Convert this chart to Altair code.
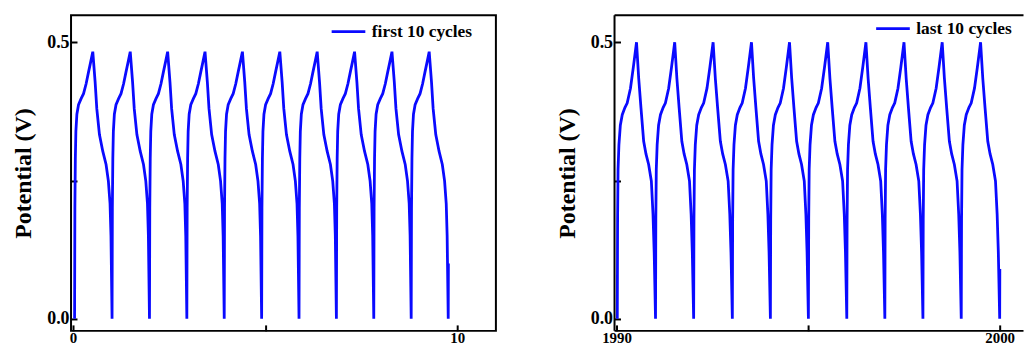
import altair as alt
import pandas as pd

# ---- data ----
# cycle start times (time at each potential minimum) and final end
left_starts = [0.04, 1.016, 1.990, 2.963, 3.936, 4.910, 5.883, 6.856, 7.829, 8.803]
left_end = 9.767
left_tail_v = 0.10
# one charge/discharge cycle: fraction of cycle length, potential (V)
left_shape_t = [0.0, 0.0082, 0.0205, 0.0349, 0.0616, 0.1058, 0.1746, 0.2393, 0.3082,
                0.3719, 0.4314, 0.4859, 0.5485, 0.5927, 0.6636, 0.7519, 0.8403,
                0.9019, 0.9461, 0.9707]
left_shape_v = [0.0, 0.20, 0.29, 0.339, 0.370, 0.387, 0.398, 0.407, 0.425,
                0.446, 0.465, 0.483, 0.428, 0.380, 0.333, 0.303, 0.279,
                0.249, 0.208, 0.150]

right_starts = [1990.02, 1991.018, 1992.013, 1993.023, 1994.016, 1995.008,
                1996.010, 1997.003, 1997.997, 1998.997]
right_end = 2000.0
right_tail_v = 0.09
right_shape_t = [0.0, 0.008, 0.02, 0.043, 0.08, 0.13, 0.2, 0.259, 0.345, 0.42,
                 0.503, 0.56, 0.62, 0.69, 0.75, 0.82, 0.891, 0.934, 0.965]
right_shape_v = [0.0, 0.18, 0.27, 0.315, 0.350, 0.369, 0.382, 0.390, 0.417, 0.455,
                 0.500, 0.435, 0.381, 0.321, 0.298, 0.279, 0.249, 0.189, 0.120]

left_label = "first 10 cycles"
right_label = "last 10 cycles"
left_ticks = [0, 5, 10]
right_ticks = [1990, 1995, 2000]
y_ticks = [0.0, 0.25, 0.5]


def build(starts, end, shape_t, shape_v, tail_v, label):
    rows = []
    bounds = starts + [end]
    for i, s in enumerate(starts):
        length = bounds[i + 1] - s
        for t, v in zip(shape_t, shape_v):
            rows.append({"t": s + t * length, "v": v})
    rows.append({"t": end, "v": 0.0})
    rows.append({"t": end + 0.004, "v": tail_v})
    df = pd.DataFrame(rows)
    df["order"] = range(len(df))
    df["series"] = label
    return df


left_df = build(left_starts, left_end, left_shape_t, left_shape_v, left_tail_v, left_label)
right_df = build(right_starts, right_end, right_shape_t, right_shape_v, right_tail_v, right_label)

FONT = "Liberation Serif"
BLUE = "#0a0aff"
H = 318


def panel(df, label, xdom, xticks, hide_x, legx, legy, width):
    xaxis = alt.Axis(values=xticks, title=None, grid=False, domain=False,
                     offset=-6, tickSize=6, tickWidth=2, tickColor="black",
                     labelFont=FONT, labelFontSize=15, labelFontWeight="bold",
                     labelColor="black", labelPadding=0,
                     labelExpr=f"datum.value == {hide_x} ? '' : format(datum.value, 'd')")
    yaxis = alt.Axis(values=y_ticks, title="Potential (V)", grid=False, domain=False,
                     offset=-6, tickSize=6, tickWidth=2, tickColor="black",
                     labelFont=FONT, labelFontSize=18, labelFontWeight="bold",
                     labelColor="black", labelPadding=2,
                     labelExpr="datum.value == 0.25 ? '' : format(datum.value, '.1f')",
                     titleFont=FONT, titleFontSize=24, titleFontWeight="bold",
                     titleColor="black", titlePadding=11)
    return alt.Chart(df).mark_line(strokeWidth=2.8, clip=True).encode(
        x=alt.X("t:Q", scale=alt.Scale(domain=xdom, nice=False, zero=False), axis=xaxis),
        y=alt.Y("v:Q", scale=alt.Scale(domain=[-0.022, 0.549], nice=False), axis=yaxis),
        color=alt.Color("series:N", scale=alt.Scale(domain=[label], range=[BLUE]),
                        legend=alt.Legend(title=None, orient="none", legendX=legx, legendY=legy,
                                          symbolType="stroke", symbolSize=1150,
                                          symbolStrokeWidth=2.8, labelFont=FONT,
                                          labelFontSize=17.5, labelFontWeight="bold",
                                          labelColor="black", labelOffset=5, padding=0)),
        order="order:Q",
    ).properties(width=width, height=H)


LW = 428
RW = 412

left = panel(left_df, left_label, [-0.052, 11.008], left_ticks, 5, 261, -2, LW).properties(
    view=alt.ViewConfig(stroke="black", strokeWidth=2)
)

frame_df = pd.DataFrame({"k": [0]})
frame_top = alt.Chart(frame_df).mark_rule(color="black", strokeWidth=2).encode(
    x=alt.value(0), x2=alt.value(RW), y=alt.value(0))
frame_bottom = alt.Chart(frame_df).mark_rule(color="black", strokeWidth=2).encode(
    x=alt.value(0), x2=alt.value(RW), y=alt.value(H))
frame_left = alt.Chart(frame_df).mark_rule(color="black", strokeWidth=2).encode(
    x=alt.value(0), y=alt.value(0), y2=alt.value(H))

right_line = panel(right_df, right_label, [1989.948, 2000.622], right_ticks, 1995, 262, -5, RW)
right = alt.layer(right_line, frame_top, frame_bottom, frame_left).properties(
    width=RW, height=H, view=alt.ViewConfig(stroke="transparent")
)

chart = alt.hconcat(left, right, spacing=58.5).resolve_scale(color="independent").properties(
    padding={"left": 2.5, "top": 0, "right": 0, "bottom": 0}
)

chart.save("out.html", embed_options={"renderer": "svg", "actions": False})
